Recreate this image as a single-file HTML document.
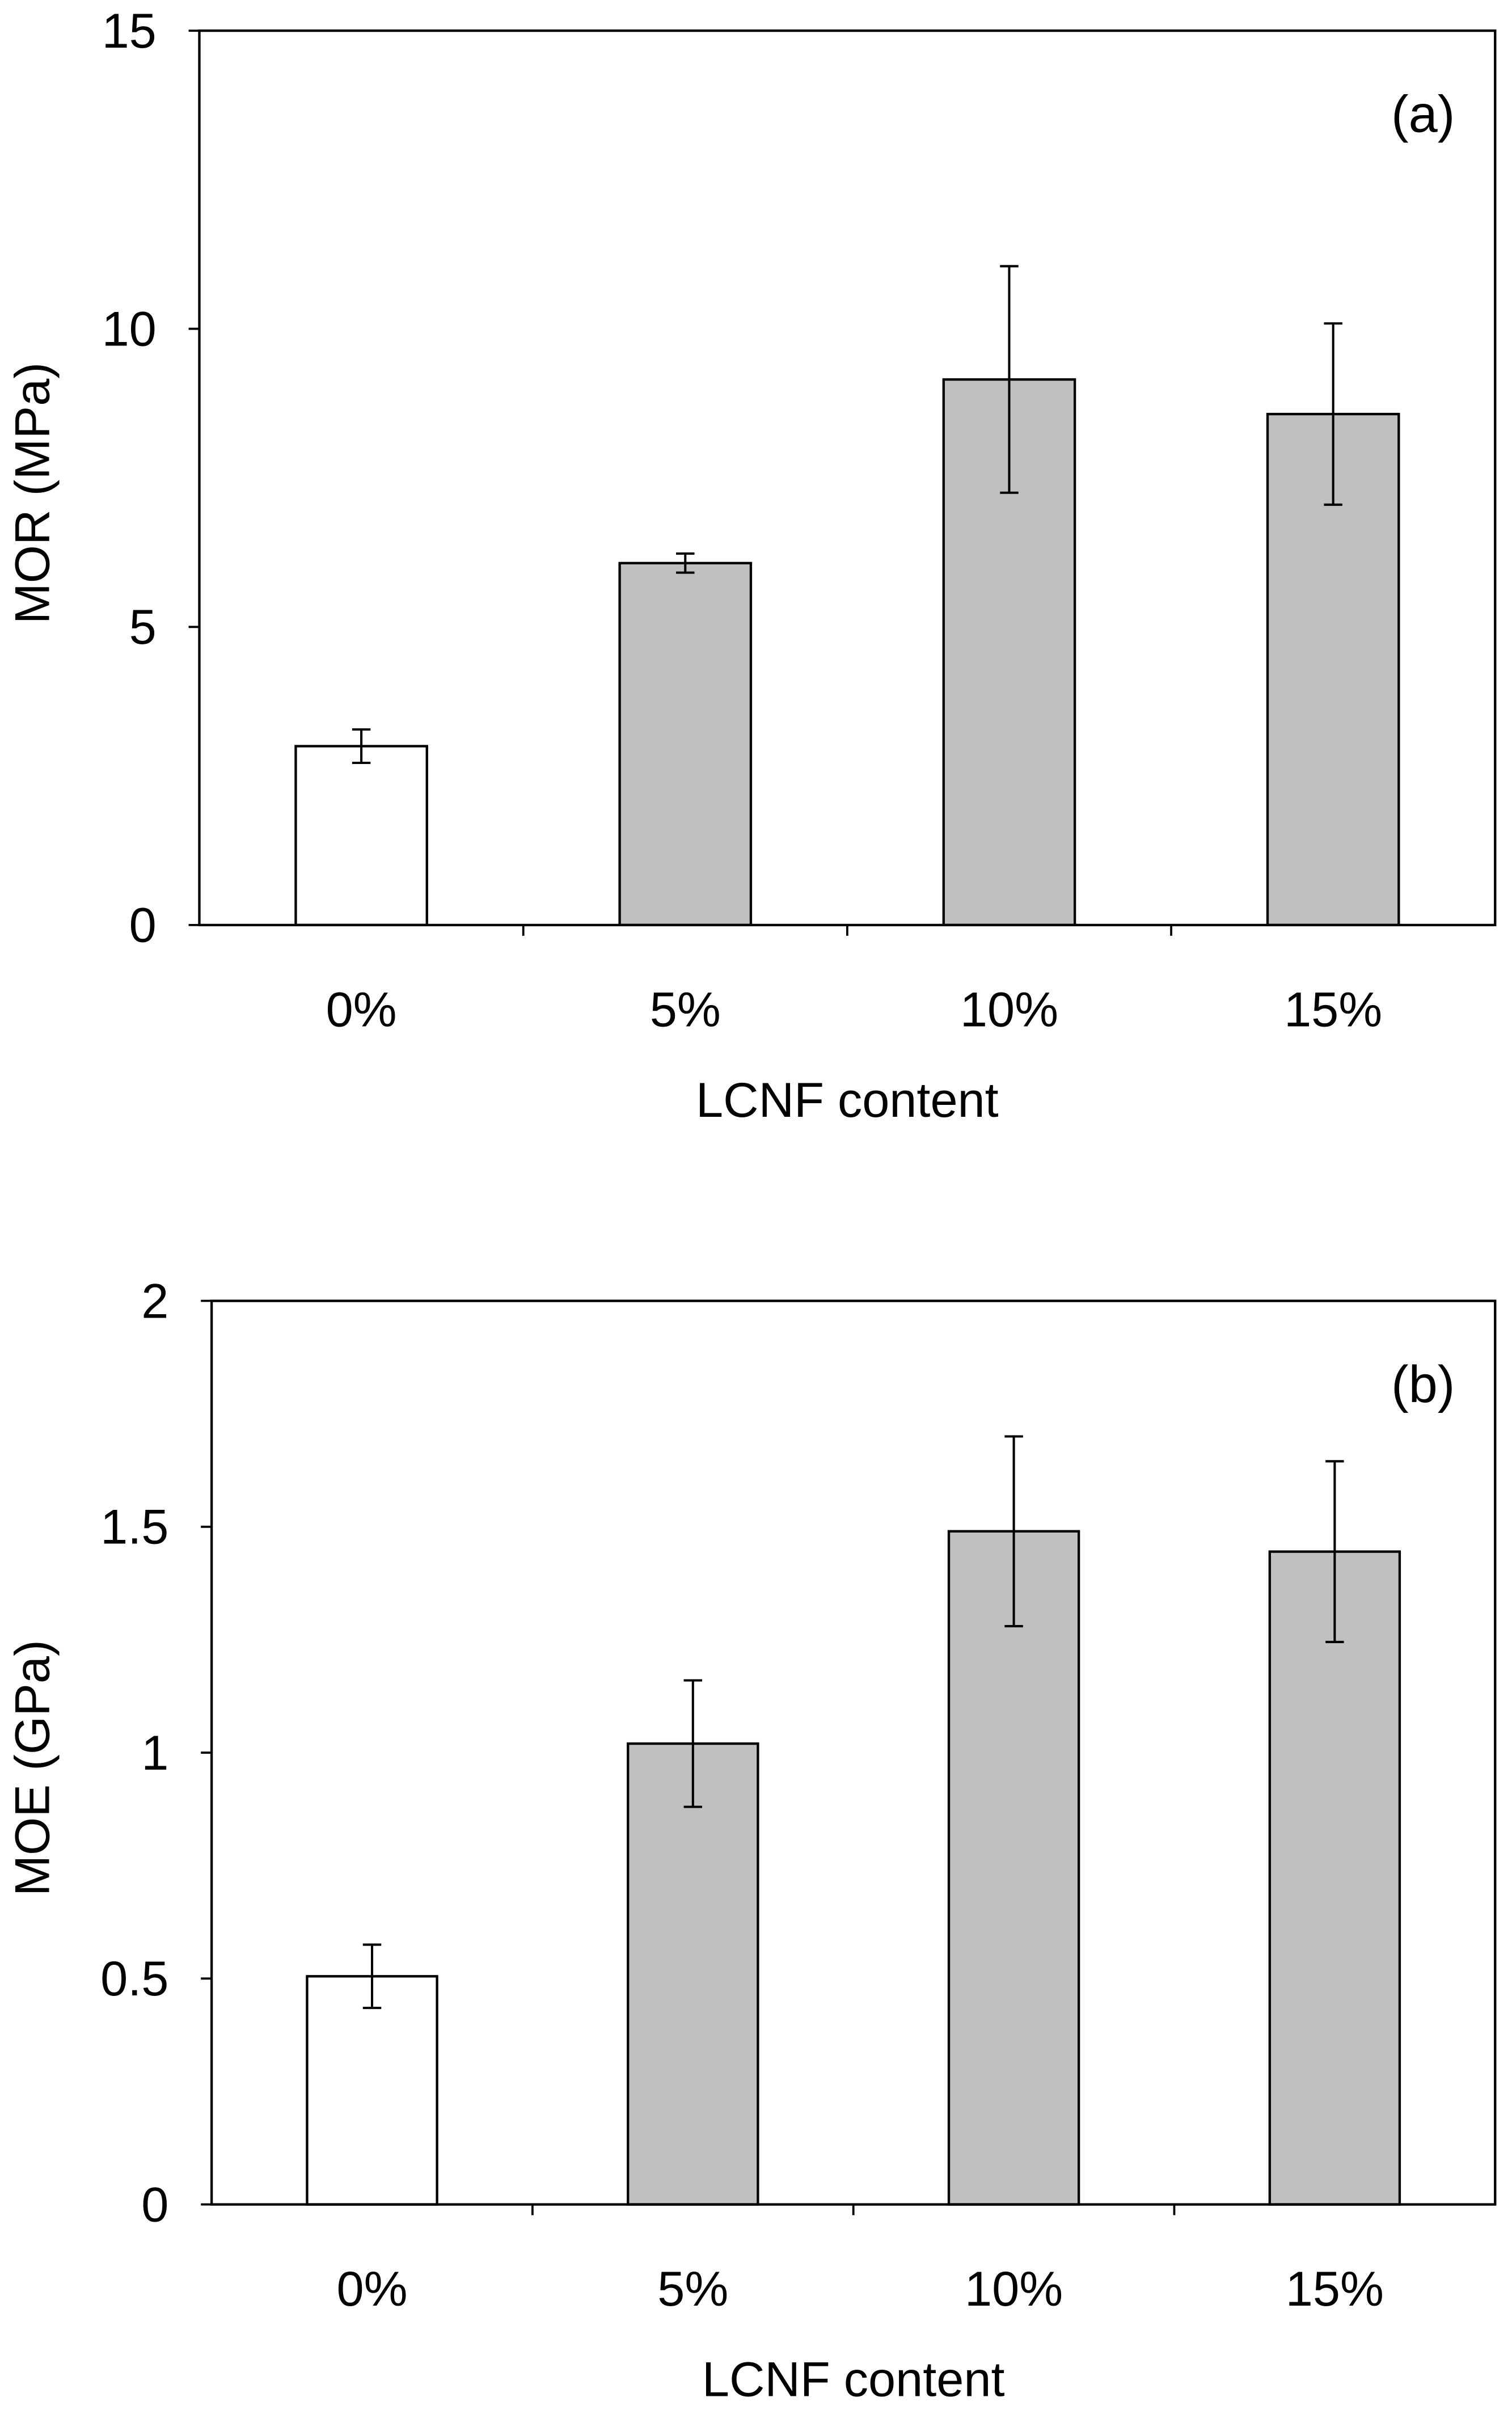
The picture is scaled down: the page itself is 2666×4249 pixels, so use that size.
<!DOCTYPE html>
<html><head><meta charset="utf-8"><style>
html,body{margin:0;padding:0;background:#fff;}
svg{display:block;}
text{font-family:"Liberation Sans",Arial,sans-serif;fill:#000;}
</style></head><body>
<svg id="fig" width="2666" height="4249" viewBox="0 0 986 1571" preserveAspectRatio="none" xmlns="http://www.w3.org/2000/svg"></svg>
<script>
const categories = ["0%", "5%", "10%", "15%"];
const morValues = [3.0, 6.07, 9.15, 8.57];
const morErrors = [0.28, 0.16, 1.9, 1.52];
const morTicks = [0, 5, 10, 15];
const moeValues = [0.505, 1.02, 1.49, 1.445];
const moeErrors = [0.07, 0.14, 0.21, 0.2];
const moeTicks = [0, 0.5, 1, 1.5, 2];

const NS = "http://www.w3.org/2000/svg";
const svg = document.getElementById("fig");
function el(tag, attrs, parent) {
  const e = document.createElementNS(NS, tag);
  for (const k in attrs) e.setAttribute(k, attrs[k]);
  (parent || svg).appendChild(e);
  return e;
}
function panel(cfg) {
  const g = el("g", {});
  
  
  const {L, R, T, B, ymax} = cfg;
  const y = v => B - (v / ymax) * (B - T);
  const cw = (R - L) / categories.length;
  const x = i => L + cw * (i + 0.5);
  const bw = cw * 0.405;
  cfg.values.forEach((v, i) => {
    const r = el("rect", {x: x(i) - bw / 2, y: y(v), width: bw, height: B - y(v), fill: i === 0 ? "#fff" : "#c0c0c0", stroke: "#000", "stroke-width": 1.6}, g);
    
    
    const e = cfg.errors[i];
    const eb = el("path", {d: `M${x(i)},${y(v + e)}V${y(v - e)}M${x(i) - 6},${y(v + e)}H${x(i) + 6}M${x(i) - 6},${y(v - e)}H${x(i) + 6}`, stroke: "#000", "stroke-width": 1.5, fill: "none"}, g);
    
    
    const t = el("text", {x: x(i), y: B + 66, "font-size": 32, "text-anchor": "middle"}, g);
    t.textContent = categories[i];
    
    
  });
  const box = el("rect", {x: L, y: T, width: R - L, height: B - T, fill: "none", stroke: "#000", "stroke-width": 1.6}, g);
  
  
  for (let i = 1; i < categories.length; i++) {
    const tk = el("line", {x1: L + cw * i, x2: L + cw * i, y1: B, y2: B + 7, stroke: "#000", "stroke-width": 1.4}, g);
    
    
  }
  cfg.ticks.forEach(v => {
    const tk = el("line", {x1: L - 7, x2: L, y1: y(v), y2: y(v), stroke: "#000", "stroke-width": 1.4}, g);
    
    
    const t = el("text", {x: L - 28, y: y(v) + 11, "font-size": 32, "text-anchor": "end"}, g);
    t.textContent = String(v);
    
    
  });
  const xt = el("text", {x: (L + R) / 2, y: B + 125, "font-size": 32, "text-anchor": "middle"}, g);
  xt.textContent = "LCNF content";
  
  
  const cy = (T + B) / 2 + 10;
  const yt = el("text", {x: 32, y: cy, "font-size": 32, "text-anchor": "middle", transform: `rotate(-90 32 ${cy})`}, g);
  yt.textContent = cfg.ytitle;
  
  
  const pl = el("text", {x: 928, y: T + 66, "font-size": 34, "text-anchor": "middle"}, g);
  pl.textContent = cfg.label;
  
  
}
panel({name: "mor-chart", L: 130, R: 975, T: 20, B: 603, ymax: 15, values: morValues, errors: morErrors, ticks: morTicks, ytitle: "MOR (MPa)", label: "(a)"});
panel({name: "moe-chart", L: 138, R: 975, T: 848, B: 1437, ymax: 2, values: moeValues, errors: moeErrors, ticks: moeTicks, ytitle: "MOE (GPa)", label: "(b)"});
</script>
</body></html>
